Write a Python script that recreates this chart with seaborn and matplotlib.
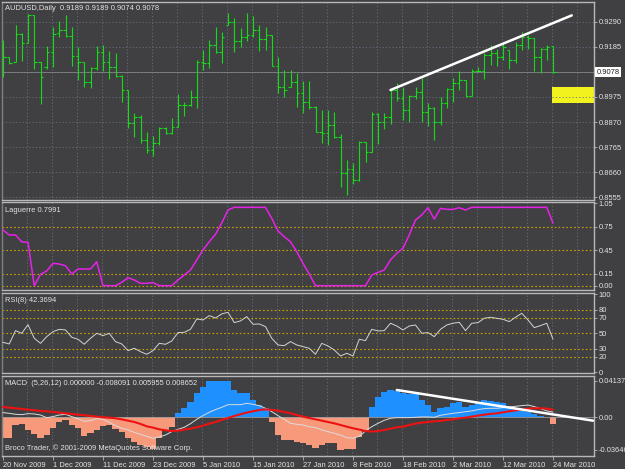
import numpy as np
import pandas as pd
import matplotlib.pyplot as plt
from matplotlib.patches import Rectangle
from matplotlib.transforms import blended_transform_factory
import seaborn as sns

# ---- values (AUDUSD daily, 20 Nov 2009 - 24 Mar 2010) ----
dates = ['20 Nov 2009', '1 Dec 2009', '11 Dec 2009', '23 Dec 2009', '5 Jan 2010',
         '15 Jan 2010', '27 Jan 2010', '8 Feb 2010', '18 Feb 2010', '2 Mar 2010',
         '12 Mar 2010', '24 Mar 2010']

opens = [0.9185, 0.9141, 0.9120, 0.9237, 0.9202, 0.9318, 0.9120, 0.9102, 0.9164, 0.9241,
         0.9255, 0.9230, 0.9148, 0.9120, 0.9039, 0.9095, 0.9164, 0.9123, 0.9102, 0.9063,
         0.9004, 0.8867, 0.8892, 0.8795, 0.8753, 0.8781, 0.8844, 0.8825, 0.8851, 0.8941,
         0.8941, 0.8976, 0.9123, 0.9116, 0.9192, 0.9164, 0.9276, 0.9290, 0.9209, 0.9227,
         0.9234, 0.9255, 0.9217, 0.9234, 0.9104, 0.9015, 0.9015, 0.9036, 0.8990, 0.8955,
         0.8931, 0.8827, 0.8823, 0.8858, 0.8809, 0.8659, 0.8673, 0.8627, 0.8788, 0.8743,
         0.8902, 0.8869, 0.8892, 0.9004, 0.8972, 0.8920, 0.8980, 0.8997, 0.8911, 0.8927,
         0.8871, 0.8948, 0.9007, 0.9032, 0.9046, 0.8980, 0.9084, 0.9084, 0.9150, 0.9157,
         0.9144, 0.9171, 0.9130, 0.9192, 0.9227, 0.9220, 0.9144, 0.9174, 0.9189]
highs = [0.9213, 0.9141, 0.9276, 0.9241, 0.9322, 0.9318, 0.9120, 0.9190, 0.9269, 0.9294,
         0.9318, 0.9269, 0.9185, 0.9120, 0.9102, 0.9188, 0.9192, 0.9169, 0.9157, 0.9067,
         0.9004, 0.8906, 0.8899, 0.8827, 0.8813, 0.8851, 0.8851, 0.8885, 0.8986, 0.8952,
         0.9004, 0.9130, 0.9171, 0.9213, 0.9266, 0.9248, 0.9325, 0.9304, 0.9262, 0.9328,
         0.9314, 0.9276, 0.9269, 0.9234, 0.9144, 0.9088, 0.9088, 0.9077, 0.9042, 0.9042,
         0.8937, 0.8920, 0.8920, 0.8911, 0.8818, 0.8711, 0.8697, 0.8791, 0.8788, 0.8913,
         0.8906, 0.8906, 0.9007, 0.9032, 0.9018, 0.8983, 0.9018, 0.9056, 0.8948, 0.8931,
         0.8973, 0.9011, 0.9053, 0.9084, 0.9046, 0.9090, 0.9102, 0.9157, 0.9192, 0.9174,
         0.9199, 0.9171, 0.9206, 0.9248, 0.9234, 0.9220, 0.9178, 0.9192, 0.9189]
lows = [0.9057, 0.9113, 0.9120, 0.9127, 0.9199, 0.9092, 0.8944, 0.9092, 0.9102, 0.9224,
        0.9227, 0.9106, 0.9046, 0.9015, 0.9011, 0.9088, 0.9084, 0.9049, 0.9060, 0.8952,
        0.8844, 0.8806, 0.8781, 0.8739, 0.8729, 0.8774, 0.8820, 0.8822, 0.8851, 0.8895,
        0.8937, 0.8930, 0.9088, 0.9095, 0.9157, 0.9118, 0.9276, 0.9164, 0.9185, 0.9209,
        0.9227, 0.9169, 0.9171, 0.9104, 0.8990, 0.8976, 0.9015, 0.8931, 0.8906, 0.8923,
        0.8827, 0.8781, 0.8774, 0.8805, 0.8599, 0.8567, 0.8613, 0.8623, 0.8701, 0.8743,
        0.8777, 0.8839, 0.8862, 0.8958, 0.8878, 0.8871, 0.8965, 0.8869, 0.8853, 0.8795,
        0.8858, 0.8927, 0.8955, 0.9004, 0.8973, 0.8980, 0.9081, 0.9049, 0.9109, 0.9104,
        0.9130, 0.9090, 0.9116, 0.9171, 0.9174, 0.9084, 0.9077, 0.9130, 0.9074]
closes = [0.9141, 0.9116, 0.9237, 0.9202, 0.9318, 0.9123, 0.9060, 0.9164, 0.9237, 0.9255,
          0.9230, 0.9148, 0.9120, 0.9039, 0.9095, 0.9164, 0.9123, 0.9102, 0.9063, 0.9004,
          0.8865, 0.8892, 0.8795, 0.8753, 0.8781, 0.8844, 0.8825, 0.8851, 0.8941, 0.8941,
          0.8976, 0.9123, 0.9116, 0.9192, 0.9164, 0.9227, 0.9290, 0.9209, 0.9227, 0.9234,
          0.9255, 0.9217, 0.9234, 0.9104, 0.9015, 0.9004, 0.9036, 0.8990, 0.8955, 0.8931,
          0.8827, 0.8823, 0.8858, 0.8809, 0.8659, 0.8673, 0.8627, 0.8788, 0.8743, 0.8902,
          0.8869, 0.8892, 0.9004, 0.8972, 0.8920, 0.8980, 0.8997, 0.8911, 0.8927, 0.8871,
          0.8948, 0.9007, 0.9032, 0.9046, 0.8980, 0.9084, 0.9084, 0.9150, 0.9157, 0.9144,
          0.9185, 0.9130, 0.9192, 0.9227, 0.9220, 0.9144, 0.9174, 0.9185, 0.9078]

laguerre = [0.71, 0.647, 0.647, 0.561, 0.553, 0.0, 0.145, 0.188, 0.285, 0.277,
            0.255, 0.149, 0.213, 0.213, 0.213, 0.306, 0.0, 0.0, 0.0, 0.043,
            0.102, 0.073, 0.03, 0.03, 0.04, 0.0, 0.0, 0.0, 0.073, 0.136,
            0.2, 0.328, 0.455, 0.561, 0.656, 0.80, 0.966, 1.0, 1.0, 1.0,
            1.0, 1.0, 1.0, 0.86, 0.698, 0.625, 0.561, 0.434, 0.285, 0.149,
            0.0, 0.0, 0.0, 0.0, 0.0, 0.0, 0.0, 0.0, 0.0, 0.136,
            0.17, 0.2, 0.328, 0.413, 0.477, 0.647, 0.838, 0.902, 0.995, 0.85,
            0.987, 0.974, 0.974, 0.995, 0.966, 1.0, 1.0, 1.0, 1.0, 1.0,
            1.0, 1.0, 1.0, 1.0, 1.0, 1.0, 1.0, 1.0, 0.7991]

rsi = [38.4, 36.3, 53.4, 50.0, 61.1, 43.6, 37.1, 45.7, 52.1, 55.1,
       54.3, 44.9, 42.3, 35.9, 43.6, 50.0, 47.0, 50.0, 39.3, 36.3,
       27.7, 30.7, 26.4, 23.0, 27.7, 37.1, 35.9, 40.1, 50.9, 51.3,
       55.1, 68.4, 67.1, 72.7, 69.7, 74.9, 77.0, 63.7, 65.9, 71.4,
       61.6, 62.0, 58.6, 43.6, 35.0, 34.1, 39.3, 35.0, 32.9, 30.7,
       23.0, 37.1, 33.7, 28.6, 20.9, 24.3, 20.9, 42.3, 40.6, 55.1,
       53.0, 53.4, 62.9, 59.4, 54.3, 59.4, 60.7, 50.0, 50.9, 45.7,
       55.1, 60.7, 62.9, 64.1, 53.4, 62.9, 63.7, 69.3, 70.6, 69.3,
       68.0, 65.0, 70.6, 75.7, 67.1, 57.3, 59.9, 62.9, 42.3694]

macd_hist = [-0.0237, -0.0237, -0.0087, -0.0079, -0.0143, -0.0192, -0.0237, -0.0200, -0.0124, -0.0049,
             -0.0030, -0.0087, -0.0124, -0.0207, -0.0181, -0.0143, -0.0094, -0.0087, -0.0132, -0.0170,
             -0.0230, -0.0275, -0.0313, -0.0332, -0.0358, -0.0237, -0.0143, -0.0106, 0.0045, 0.0102,
             0.0170, 0.0271, 0.0347, 0.0405, 0.0410, 0.0412, 0.041374, 0.0309, 0.0271, 0.0271,
             0.0196, 0.0139, 0.0102, -0.0049, -0.0200, -0.0256, -0.0256, -0.0275, -0.0294, -0.0313,
             -0.0350, -0.0313, -0.0287, -0.0294, -0.03646, -0.0364, -0.0364, -0.0219, -0.0143, 0.0121,
             0.0234, 0.0290, 0.0309, 0.0298, 0.0271, 0.0264, 0.0264, 0.0196, 0.0139, 0.0064,
             0.0102, 0.0121, 0.0158, 0.0177, 0.0121, 0.0139, 0.0158, 0.0196, 0.0185, 0.0177,
             0.0158, 0.0121, 0.0102, 0.0072, 0.0064, 0.0034, 0.0019, 0.0008, -0.008091]
macd_main = [0.0053, 0.0045, 0.0034, 0.0030, 0.0041, 0.0038, 0.0026, -0.0004, 0.0008, 0.0026,
             0.0034, 0.0008, -0.0015, -0.0045, -0.0038, -0.0015, -0.0023, -0.0057, -0.0094, -0.0124,
             -0.0143, -0.0170, -0.0192, -0.0215, -0.0237, -0.0222, -0.0200, -0.0162, -0.0136, -0.0113,
             -0.0072, -0.0023, 0.0019, 0.0057, 0.0087, 0.0113, 0.0143, 0.0143, 0.0143, 0.0158,
             0.0147, 0.0132, 0.0102, 0.0064, 0.0019, -0.0023, -0.0068, -0.0079, -0.0087, -0.0106,
             -0.0117, -0.0143, -0.0162, -0.0181, -0.0200, -0.0230, -0.0237, -0.0215, -0.0155, -0.0106,
             -0.0068, -0.0034, -0.0011, -0.0004, -0.0004, -0.0004, 0.0, 0.0004, 0.0004, 0.0,
             0.0023, 0.0034, 0.0045, 0.0053, 0.0064, 0.0072, 0.0087, 0.0098, 0.0102, 0.0102,
             0.0109, 0.0117, 0.0124, 0.0132, 0.0139, 0.0121, 0.0098, 0.0072, 0.005955]
macd_signal = [0.0117, 0.0109, 0.0102, 0.0094, 0.0087, 0.0079, 0.0072, 0.0068, 0.0060, 0.0053,
               0.0045, 0.0038, 0.0030, 0.0023, 0.0015, 0.0008, 0.0, -0.0004, -0.0011, -0.0023,
               -0.0038, -0.0053, -0.0075, -0.0102, -0.0117, -0.0136, -0.0147, -0.0155, -0.0151, -0.0139,
               -0.0128, -0.0113, -0.0094, -0.0072, -0.0053, -0.0030, -0.0008, 0.0015, 0.0034, 0.0053,
               0.0068, 0.0083, 0.0090, 0.0083, 0.0075, 0.0060, 0.0045, 0.0026, 0.0008, -0.0008,
               -0.0023, -0.0038, -0.0053, -0.0068, -0.0087, -0.0106, -0.0124, -0.0139, -0.0155, -0.0162,
               -0.0155, -0.0143, -0.0128, -0.0113, -0.0106, -0.0087, -0.0072, -0.0060, -0.0053, -0.0045,
               -0.0041, -0.0030, -0.0023, -0.0011, -0.0004, 0.0008, 0.0019, 0.0030, 0.0038, 0.0045,
               0.0057, 0.0068, 0.0079, 0.0087, 0.0098, 0.0102, 0.0102, 0.0098, 0.008652]

price_grid = [0.9290, 0.9185, 0.9080, 0.8975, 0.8870, 0.8765, 0.8660, 0.8555]
price_ticks = [0.9290, 0.9185, 0.8975, 0.8870, 0.8765, 0.8660, 0.8555]
laguerre_levels = [0.75, 0.45, 0.15, 0.0]
laguerre_ticks = [1.05, 0.75, 0.45, 0.15, 0.0]
rsi_levels = [80, 70, 50, 30, 20]
rsi_ticks = [100, 80, 70, 50, 30, 20, 0]
macd_ticks = [0.041374, 0.0, -0.03646]
macd_tick_labels = ['0.041374', '0.00', '-0.036460']

# hand-drawn trendlines (bar index, value)
trend_price_x, trend_price_y = [62, 91], [0.9004, 0.9316]
trend_macd_x, trend_macd_y = [63, 94.4], [0.0309, -0.0038]
box_x, box_lo, box_hi = 87.9, 0.8951, 0.9017

bars = pd.DataFrame({'open': opens, 'high': highs, 'low': lows, 'close': closes})
bars['idx'] = np.arange(len(bars))

# ---- style ----
sns.set_theme(style="dark")
plt.rcParams['font.family'] = ['Liberation Sans', 'DejaVu Sans']

BG = '#404043'
FG = '#e4e4e4'
EDGE = '#b8b8b8'
GRID = '#667080'
GOLD = '#c9a200'
GREEN = '#14dc14'
FS = 5.4

W, H = 625, 469
fig = plt.figure(figsize=(6.25, 4.69), dpi=100, facecolor=BG)


def panel(top, bottom):
    return fig.add_axes([2 / W, 1 - bottom / H, 592 / W, (bottom - top) / H])


ax_p = panel(2, 200)
ax_l = panel(202, 290)
ax_r = panel(293, 373)
ax_m = panel(376, 456)

grid_x = [4 * k - 0.16 for k in range(1, 24)]
for ax in (ax_p, ax_l, ax_r, ax_m):
    ax.set_facecolor(BG)
    ax.grid(False)
    ax.set_xlim(-0.16, 94.56)
    for s in ax.spines.values():
        s.set_visible(True)
        s.set_color(EDGE)
        s.set_linewidth(1.0)
    ax.spines['left'].set_color('#808080')
    ax.tick_params(axis='y', left=False, right=True, labelleft=False, labelright=True,
                   direction='out', length=2.5, width=0.6, color=EDGE,
                   labelsize=FS, labelcolor=FG, pad=1)
    ax.tick_params(axis='x', bottom=False, labelbottom=False)
    for gx in grid_x:
        ax.axvline(gx, color=GRID, lw=0.6, ls=(0, (1.5, 2.5)), zorder=0.5)

# ---- price panel ----
ax_p.set_ylim(0.8544, 0.9372)
for gy in price_grid:
    ax_p.axhline(gy, color=GRID, lw=0.6, ls=(0, (1.5, 2.5)), zorder=1.5)
ax_p.add_patch(Rectangle((box_x, box_lo), 10, box_hi - box_lo, color='#f2f21e', lw=0, zorder=1))
ax_p.axhline(closes[-1], color='#8e8e8e', lw=0.6, zorder=1.2)
ax_p.vlines(bars['idx'], bars['low'], bars['high'], color=GREEN, lw=0.8, zorder=3)
ax_p.hlines(bars['open'], bars['idx'] - 0.4, bars['idx'], color=GREEN, lw=0.8, zorder=3)
ax_p.hlines(bars['close'], bars['idx'], bars['idx'] + 0.4, color=GREEN, lw=0.8, zorder=3)
ax_p.plot(trend_price_x, trend_price_y, color='white', lw=1.8, solid_capstyle='round', zorder=4)
ax_p.set_yticks(price_ticks)
ax_p.set_yticklabels([f'{v:.4f}' for v in price_ticks])
tr = blended_transform_factory(ax_p.transAxes, ax_p.transData)
ax_p.text(1.004, closes[-1], f'{closes[-1]:.4f}', transform=tr, ha='left', va='center',
          fontsize=FS, color='#1e1e1e',
          bbox=dict(boxstyle='square,pad=0.2', fc='white', ec='none'))

# ---- Laguerre panel ----
ax_l.set_ylim(-0.055, 1.068)
for lv in laguerre_levels:
    ax_l.axhline(lv, color=GOLD, lw=0.8, ls=(0, (1.5, 2)), zorder=1)
sns.lineplot(x=bars['idx'], y=laguerre, ax=ax_l, color='#e622e6', lw=1.1, zorder=3)
ax_l.set_yticks(laguerre_ticks)
ax_l.set_yticklabels([f'{v:.2f}' for v in laguerre_ticks])

# ---- RSI panel ----
ax_r.set_ylim(-1.04, 101.8)
for lv in rsi_levels:
    ax_r.axhline(lv, color=GOLD, lw=0.8, ls=(0, (1.5, 2)), zorder=1)
sns.lineplot(x=bars['idx'], y=rsi, ax=ax_r, color='#d4d4d4', lw=0.7, zorder=3)
ax_r.set_yticks(rsi_ticks)
ax_r.set_yticklabels([str(v) for v in rsi_ticks])

# ---- MACD panel ----
ax_m.set_ylim(-0.04375, 0.0467)
hist_colors = ['#1e90ff' if v > 0 else '#f79a7c' for v in macd_hist]
ax_m.bar(bars['idx'], macd_hist, width=1.0, color=hist_colors, lw=0, zorder=2)
ax_m.axhline(0, color='#9a9a9a', lw=0.6, zorder=2.5)
sns.lineplot(x=bars['idx'], y=macd_main, ax=ax_m, color='#dcdcdc', lw=0.7, zorder=3)
sns.lineplot(x=bars['idx'], y=macd_signal, ax=ax_m, color='#ee1111', lw=1.5, zorder=3.5)
ax_m.plot(trend_macd_x, trend_macd_y, color='white', lw=1.8, solid_capstyle='round', zorder=4)
ax_m.set_yticks(macd_ticks)
ax_m.set_yticklabels(macd_tick_labels)
ax_m.set_xticks(list(range(0, len(bars), 8)))
ax_m.set_xticklabels(dates, ha='left')
ax_m.tick_params(axis='x', bottom=True, labelbottom=True, direction='out', length=3,
                 width=0.6, color=EDGE, labelsize=FS, labelcolor=FG, pad=1.5)

for ax in (ax_p, ax_l, ax_r, ax_m):
    ax.set_xlabel('')
    ax.set_ylabel('')

# ---- panel captions ----
h = macd_hist[-1]
captions = [
    (8, f'AUDUSD,Daily  {opens[-1]:.4f} {highs[-1]:.4f} {lows[-1]:.4f} {closes[-1]:.4f}'),
    (210, f'Laguerre {laguerre[-1]:.4f}'),
    (300.5, f'RSI(8) {rsi[-1]:.4f}'),
    (383, f'MACD  (5,26,12) {max(h, 0):.6f} {min(h, 0):.6f} {macd_main[-1]:.6f} {macd_signal[-1]:.6f}'),
    (448.5, 'Broco Trader, © 2001-2009 MetaQuotes Software Corp.'),
]
for ypx, txt in captions:
    fig.text(5 / W, 1 - ypx / H, txt, ha='left', va='center', fontsize=FS, color=FG, zorder=10)

fig.savefig('out.png', dpi=100, facecolor=BG)
